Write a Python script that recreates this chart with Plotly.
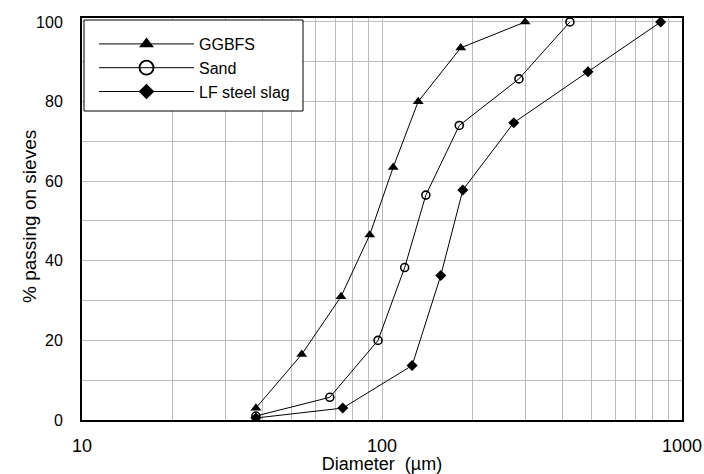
import plotly.graph_objects as go

ggbfs_d = [38, 54, 73, 91, 109, 132, 183, 300]
ggbfs_p = [3, 16.5, 31, 46.5, 63.5, 80, 93.5, 100]
sand_d = [38, 67, 97, 119, 140, 181, 286, 423]
sand_p = [1, 5.7, 20, 38.3, 56.5, 74, 85.7, 100]
slag_d = [38, 74, 126, 157, 186, 275, 486, 849]
slag_p = [0.5, 3, 13.7, 36.3, 57.8, 74.7, 87.5, 100]

x_major = [10, 100, 1000]
x_minor = [20, 30, 40, 50, 60, 70, 80, 90, 200, 300, 400, 500, 600, 700, 800, 900]
y_major = [0, 20, 40, 60, 80, 100]

FONT = "Arial, Liberation Sans, sans-serif"
GRID = "#bcbcbc"

series = [
    ("GGBFS", ggbfs_d, ggbfs_p, dict(symbol="triangle-up", size=9.5, color="black"),
     dict(symbol="triangle-up", size=13, color="black"), "a"),
    ("Sand", sand_d, sand_p, dict(symbol="circle-open", size=8, color="black",
                                  line=dict(width=1.6, color="black")),
     dict(symbol="circle-open", size=14, color="black", line=dict(width=1.8, color="black")), "b"),
    ("LF steel slag", slag_d, slag_p, dict(symbol="diamond", size=8.5, color="black"),
     dict(symbol="diamond", size=12, color="black"), "c"),
]

fig = go.Figure()
for name, xs, ys, mk, lmk, grp in series:
    fig.add_trace(go.Scatter(x=xs, y=ys, name=name, mode="lines+markers",
                             showlegend=False, legendgroup=grp,
                             line=dict(color="black", width=1), marker=mk))
for name, xs, ys, mk, lmk, grp in series:
    # legend-only entry (larger symbol as in the original legend)
    fig.add_trace(go.Scatter(x=[None], y=[None], name=name, mode="lines+markers",
                             showlegend=True, legendgroup=grp,
                             line=dict(color="black", width=1), marker=lmk))

# plot area in pixels: x 82..682, y 18..420
def px(x):
    return (x - 82) / 600.0

def py(y):
    return (420 - y) / 402.0

fig.add_shape(type="rect", xref="paper", yref="paper",
              x0=px(84), x1=px(303), y0=py(111), y1=py(20),
              fillcolor="white", line=dict(color="black", width=1), layer="above")

fig.add_annotation(text="% passing on sieves", xref="paper", yref="paper",
                   x=px(29), y=py(217), textangle=-90, showarrow=False,
                   xanchor="center", yanchor="middle",
                   font=dict(family=FONT, size=19, color="black"))

fig.update_layout(
    width=704, height=474,
    margin=dict(l=82, r=22, t=18, b=54, autoexpand=False),
    paper_bgcolor="white", plot_bgcolor="white",
    font=dict(family=FONT, size=16, color="black"),
    legend=dict(x=px(94), y=py(27), xanchor="left", yanchor="top",
                bgcolor="rgba(0,0,0,0)", borderwidth=0,
                font=dict(size=16), itemwidth=95, tracegroupgap=0),
    showlegend=True,
)
fig.update_xaxes(type="log", range=[1, 3], automargin=False,
                 tickvals=x_major, ticktext=[str(v) for v in x_major],
                 tickfont=dict(size=18), ticklabelstandoff=8,
                 showgrid=True, gridcolor=GRID, gridwidth=1.3,
                 minor=dict(tickvals=x_minor, showgrid=True, gridcolor=GRID, gridwidth=1.3),
                 showline=True, linecolor="black", linewidth=2, mirror=True,
                 ticks="",
                 title=dict(text="Diameter  (µm)", font=dict(size=18), standoff=4),
                 zeroline=False)
fig.update_yaxes(range=[0, 101], tickvals=y_major, automargin=False,
                 tickfont=dict(size=16), ticklabelstandoff=14,
                 showgrid=True, gridcolor=GRID, gridwidth=1.3,
                 minor=dict(dtick=10, showgrid=True, gridcolor=GRID, gridwidth=1.3),
                 showline=True, linecolor="black", linewidth=2, mirror=True,
                 ticks="", zeroline=False)

fig.write_html("out.html")
